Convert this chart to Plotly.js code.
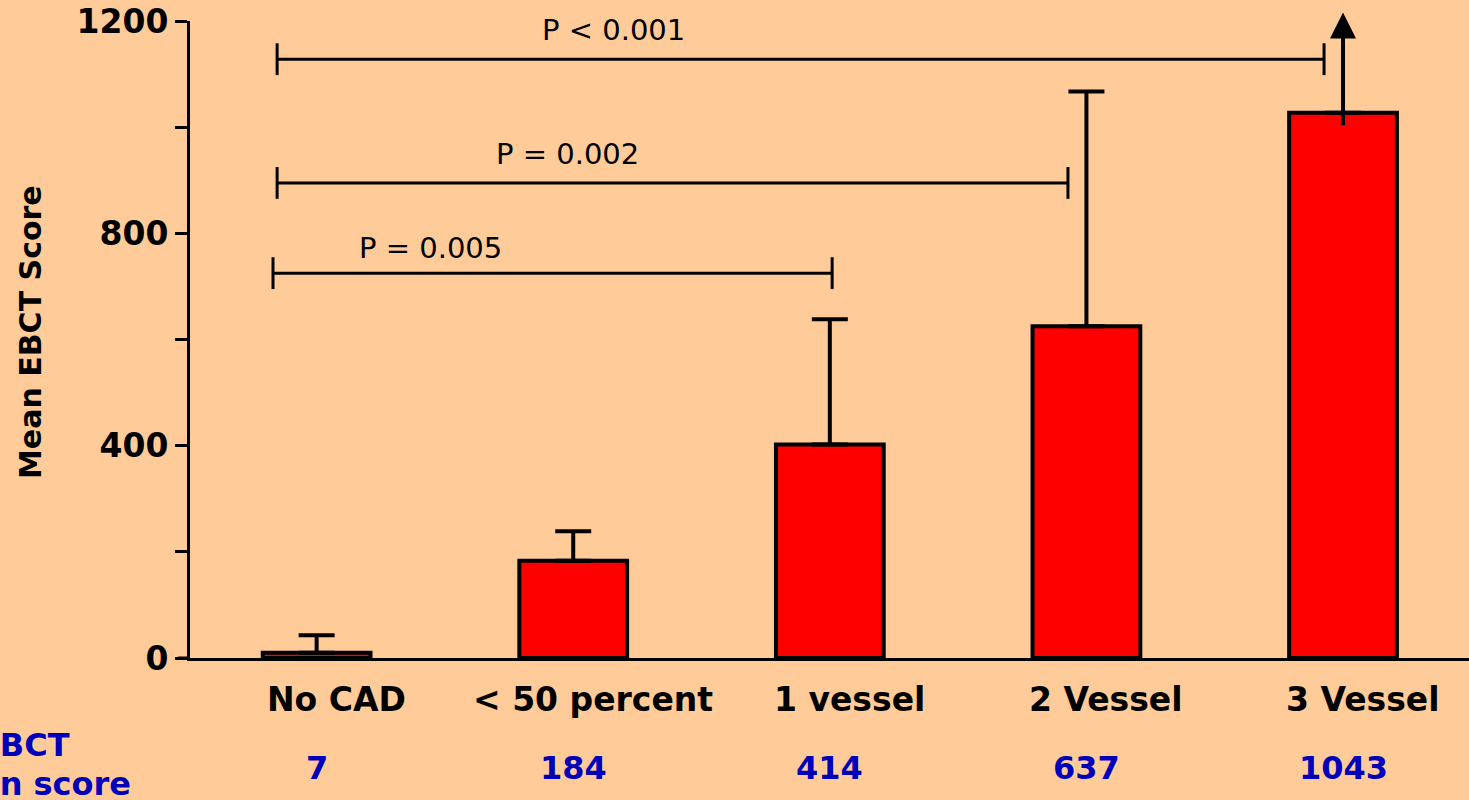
<!DOCTYPE html>
<html>
<head>
<meta charset="utf-8">
<script src="https://cdn.plot.ly/plotly-3.0.1.min.js"></script>
<style>html,body{margin:0;padding:0;background:#FFCC99;}#chart{width:1469px;height:800px;}</style>
</head>
<body>
<div id="chart"></div>
<script>
// ---- data ----
const categories = ['No CAD', '< 50 percent', '1 vessel', '2 Vessel', '3 Vessel'];
const barValues = [10, 183, 402, 625, 1027];
const errorTops = [43, 239, 638, 1067, null];   // 3 Vessel shown with an arrow instead
const arrowFrom = 1001;
const arrowTo = 1216;
const meanScoreLabels = ['7', '184', '414', '637', '1043'];
const rowLabels = ['EBCT', 'mean score'];
const yTickVals = [0, 200, 400, 600, 800, 1000, 1200];
const yTickText = ['0', '', '400', '', '800', '', '1200'];
const pLabels = ['P = 0.005', 'P = 0.002', 'P < 0.001'];
const pStart = [-0.17, -0.154, -0.154];
const pEnd = [2.009, 2.928, 3.926];
const pLevel = [725, 895, 1128];
const pLabelX = [0.442, 0.976, 1.155];
const pLabelY = [772, 950, 1183];
const yTitle = 'Mean EBCT Score';

// ---- build ----
const esc = s => s.replace(/</g, '&lt;');
const errUp = errorTops.map((t, i) => t === null ? NaN : t - barValues[i]);
const errDown = errorTops.map(() => 0);

const FONT = 'DejaVu Sans, Verdana, sans-serif';
const BLUE = '#0000BB';
const tickHalf = 30;

const trace = {
  type: 'bar',
  x: categories,
  y: barValues,
  width: 0.42,
  marker: {color: '#FF0000', line: {color: '#000000', width: 4}},
  error_y: {type: 'data', symmetric: false, array: errUp, arrayminus: errDown,
            color: '#000000', thickness: 4, width: 18},
  hoverinfo: 'x+y'
};

const shapes = [];
pLabels.forEach((p, i) => {
  const ln = {color: '#000000', width: 3};
  shapes.push({type: 'line', xref: 'x', yref: 'y', x0: pStart[i], x1: pEnd[i], y0: pLevel[i], y1: pLevel[i], line: ln});
  shapes.push({type: 'line', xref: 'x', yref: 'y', x0: pStart[i], x1: pStart[i], y0: pLevel[i] - tickHalf, y1: pLevel[i] + tickHalf, line: ln});
  shapes.push({type: 'line', xref: 'x', yref: 'y', x0: pEnd[i], x1: pEnd[i], y0: pLevel[i] - tickHalf, y1: pLevel[i] + tickHalf, line: ln});
});
// small left extension of the x axis line
shapes.push({type: 'line', xref: 'paper', yref: 'paper', x0: -12 / 1279, x1: 0, y0: 0, y1: 0,
             line: {color: '#000000', width: 3}});

const annotations = [];
categories.forEach((c, i) => {
  annotations.push({x: i, xref: 'x', y: -0.0659, yref: 'paper', text: esc(c), showarrow: false,
    xanchor: 'center', yanchor: 'middle', xshift: 20,
    font: {family: FONT, size: 33, color: '#000000', weight: 'bold'}});
  annotations.push({x: i, xref: 'x', y: -0.1727, yref: 'paper', text: meanScoreLabels[i], showarrow: false,
    xanchor: 'center', yanchor: 'middle',
    font: {family: FONT, size: 32, color: BLUE, weight: 'bold'}});
});
annotations.push({x: (72 - 190) / 1279, xref: 'paper', y: -0.1366, yref: 'paper', text: rowLabels[0],
  showarrow: false, xanchor: 'right', yanchor: 'middle',
  font: {family: FONT, size: 32, color: BLUE, weight: 'bold'}});
annotations.push({x: (133 - 190) / 1279, xref: 'paper', y: -0.1978, yref: 'paper', text: rowLabels[1],
  showarrow: false, xanchor: 'right', yanchor: 'middle',
  font: {family: FONT, size: 32, color: BLUE, weight: 'bold'}});
pLabels.forEach((p, i) => {
  annotations.push({x: pLabelX[i], xref: 'x', y: pLabelY[i], yref: 'y', text: esc(p), showarrow: false,
    xanchor: 'center', yanchor: 'middle',
    font: {family: FONT, size: 29, color: '#000000'}});
});
annotations.push({x: (31 - 190) / 1279, xref: 'paper', y: 0.5118, yref: 'paper', text: yTitle,
  showarrow: false, textangle: -90, xanchor: 'center', yanchor: 'middle',
  font: {family: FONT, size: 30, color: '#000000', weight: 'bold'}});
// open-ended error of the 3 Vessel group
annotations.push({x: 4, y: arrowTo, xref: 'x', yref: 'y', ax: 4, ay: arrowFrom, axref: 'x', ayref: 'y',
  text: '', showarrow: true, arrowhead: 2, arrowsize: 1.3, arrowwidth: 4, arrowcolor: '#000000'});

const layout = {
  width: 1469, height: 800,
  margin: {l: 190, r: 0, t: 21, b: 142, pad: 0},
  paper_bgcolor: '#FFCC99', plot_bgcolor: '#FFCC99',
  showlegend: false,
  xaxis: {type: 'category', range: [-0.4935, 4.4909], showline: true, linewidth: 3, linecolor: '#000000',
          ticks: '', showticklabels: false, showgrid: false, zeroline: false, fixedrange: true},
  yaxis: {range: [0, 1200], showline: true, linewidth: 3, linecolor: '#000000',
          ticks: 'outside', ticklen: 12, tickwidth: 3, tickcolor: '#000000',
          tickmode: 'array', tickvals: yTickVals, ticktext: yTickText,
          tickfont: {family: FONT, size: 33, color: '#000000', weight: 'bold'},
          showgrid: false, zeroline: false, fixedrange: true},
  shapes: shapes,
  annotations: annotations
};

Plotly.newPlot('chart', [trace], layout, {displayModeBar: false, staticPlot: true});
</script>
</body>
</html>
